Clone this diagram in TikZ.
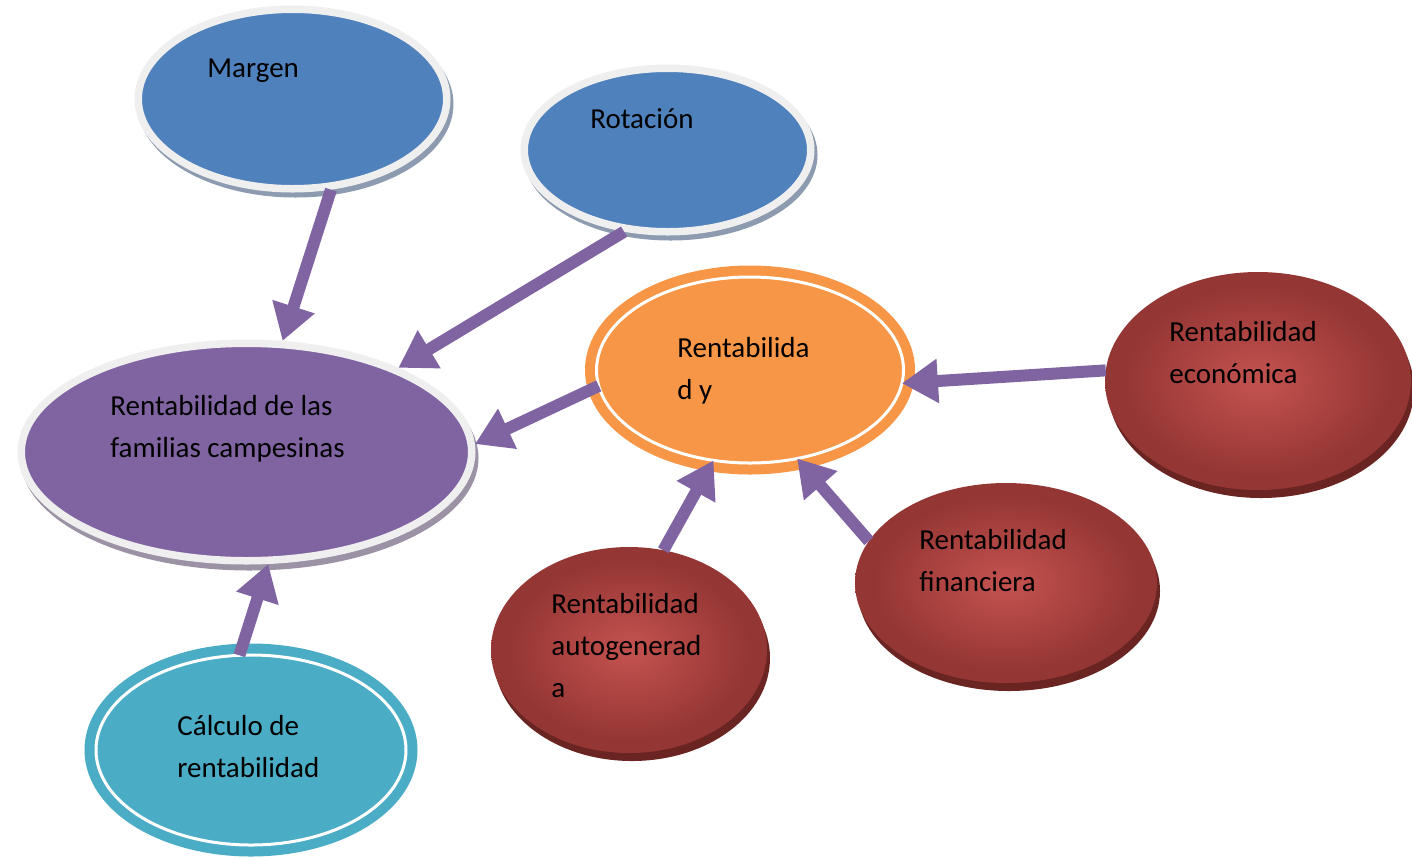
\documentclass[tikz,border=0pt]{standalone}
\usepackage{fontspec}
\setmainfont{Carlito}
\usetikzlibrary{arrows.meta,shapes.geometric,backgrounds}
\definecolor{blueC}{HTML}{4F81BD}
\definecolor{purpleC}{HTML}{8064A2}
\definecolor{orangeC}{HTML}{F79646}
\definecolor{tealC}{HTML}{4BACC6}
\definecolor{redL}{HTML}{C0504D}
\definecolor{redD}{HTML}{943634}
\definecolor{redS}{HTML}{6A2422}
\definecolor{ringC}{HTML}{EFEFEF}
\definecolor{shadowB}{HTML}{8C9BAF}
\definecolor{shadowP}{HTML}{9C92A5}
\definecolor{arrowC}{HTML}{8064A2}
\pgfdeclareradialshading{redglow}{\pgfpoint{0bp}{0bp}}{color(0bp)=(redL); color(2bp)=(redL); color(22bp)=(redD); color(100bp)=(redD)}
\newcommand\mlines[1]{\vtop{\baselineskip=21pt \lineskiplimit=-20pt \halign{##\hfil\cr #1\crcr}}}
\tikzset{
  ringnode/.style={ellipse, draw=ringC, line width=3.75pt, inner sep=0pt},
  dblnode/.style={ellipse, draw=#1, fill=#1, double=white, double distance=1.5pt, line width=5pt, inner sep=0pt, outer sep=0pt},
  rednode/.style={ellipse, shading=redglow, inner sep=0pt, outer sep=0pt},
  conn/.style={draw=arrowC, line width=6pt, -{Triangle[length=18pt,width=21pt]}},
  txt/.style={font=\fontsize{14.5pt}{21pt}\selectfont, anchor=base west, inner sep=0pt, text=black}
}
\begin{document}
\begin{tikzpicture}[x=0.5pt,y=-0.5pt]
\useasboundingbox (0,0) rectangle (1412,858);
% nodes
\node[ringnode, fill=blueC, minimum width=154.25pt, minimum height=89.75pt] (margen) at (292.5,99) {};
\node[ringnode, fill=blueC, minimum width=143.25pt, minimum height=81.75pt] (rotacion) at (667.5,150) {};
\node[ringnode, fill=purpleC, minimum width=225.25pt, minimum height=108.75pt] (central) at (246.5,452) {};
\node[dblnode=orangeC, minimum width=153.5pt, minimum height=93pt] (rent) at (750,370) {};
\node[dblnode=tealC, minimum width=155pt, minimum height=95pt] (calculo) at (251,750) {};
\node[rednode, minimum width=153pt, minimum height=109pt] (economica) at (1258,381) {};
\node[rednode, minimum width=151pt, minimum height=100pt] (financiera) at (1006,583) {};
\node[rednode, minimum width=138pt, minimum height=103pt] (autogen) at (629,650) {};
% shadows
\begin{scope}[on background layer]
  \fill[shadowB] ([shift={(3,5)}]margen.center) ellipse [x radius=79pt, y radius=46.75pt];
  \fill[shadowB] ([shift={(3,5)}]rotacion.center) ellipse [x radius=73.5pt, y radius=42.75pt];
  \fill[shadowP] ([shift={(3,6)}]central.center) ellipse [x radius=114.5pt, y radius=56.25pt];
  \fill[redS] ([shift={(3,8)}]economica.center) ellipse [x radius=76.5pt, y radius=54.5pt];
  \fill[redS] ([shift={(3,8)}]financiera.center) ellipse [x radius=75.5pt, y radius=50pt];
  \fill[redS] ([shift={(3,8)}]autogen.center) ellipse [x radius=69pt, y radius=51.5pt];
\end{scope}
% texts
\node[txt] (tmargen) at ([shift={(-85.5,-22)}]margen.center) {Margen};
\node[txt] (trotacion) at ([shift={(-77.5,-22)}]rotacion.center) {Rotación};
\node[txt] (tcentral) at ([shift={(-136.5,-37)}]central.center) {\mlines{Rentabilidad de las\cr familias campesinas}};
\node[txt] (trent) at ([shift={(-73,-13)}]rent.center) {\mlines{Rentabilida\cr d y}};
\node[txt] (tcalculo) at ([shift={(-74,-15)}]calculo.center) {\mlines{Cálculo de\cr rentabilidad}};
\node[txt] (teconomica) at ([shift={(-89,-40)}]economica.center) {\mlines{Rentabilidad\cr económica}};
\node[txt] (tfinanciera) at ([shift={(-87,-34)}]financiera.center) {\mlines{Rentabilidad\cr financiera}};
\node[txt] (tautogen) at ([shift={(-78,-37)}]autogen.center) {\mlines{Rentabilidad\cr autogenerad\cr a}};
% connectors
\draw[conn] (margen.-67) -- (central.72);
\draw[conn] (rotacion.-118) -- (central.29);
\draw[conn] (rent.186) -- (central.2);
\draw[conn] (calculo.97) -- (central.-79);
\draw[conn] (economica.176) -- (rent.-5);
\draw[conn] (autogen.71) -- (rent.-112);
\draw[conn] (financiera.163) -- (rent.-62);
\end{tikzpicture}
\end{document}
